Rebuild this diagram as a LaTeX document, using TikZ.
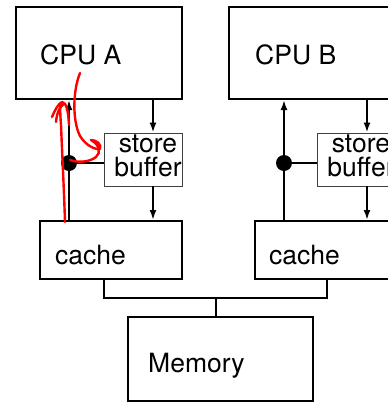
\documentclass[tikz,border=0pt]{standalone}
\usepackage{fontspec}
\setmainfont{TeX Gyre Heros}
\usetikzlibrary{arrows.meta}
\begin{document}
\begin{tikzpicture}[x=1pt,y=-1pt,
  box/.style={draw,line width=2pt,inner sep=0pt,rectangle},
  thinbox/.style={draw,line width=0.9pt,draw=black!75,inner sep=0pt,rectangle},
  txt/.style={inner sep=0pt,anchor=base west,font=\fontsize{26.5}{24}\selectfont},
  sbtxt/.style={inner sep=0pt,align=center,font=\fontsize{26.5}{24}\selectfont},
  wire/.style={line width=2pt},
  arr/.style={line width=2pt,-{Latex[length=10pt,width=7pt]}},
  scribble/.style={red,line width=2.4pt,line cap=round,line join=round}]
\useasboundingbox (0,0) rectangle (388,405);
\clip (0,0) rectangle (388,405);
% boxes
\node[box,minimum width=166pt,minimum height=92pt] (cpuA) at (99,53) {};
\node[box,minimum width=166pt,minimum height=92pt] (cpuB) at (312,53) {};
\node[thinbox,minimum width=78pt,minimum height=53pt] (sbA) at (143,159.5) {};
\node[thinbox,minimum width=78pt,minimum height=53pt] (sbB) at (356,159.5) {};
\node[box,minimum width=142pt,minimum height=58pt] (cacheA) at (111,250) {};
\node[box,minimum width=142pt,minimum height=58pt] (cacheB) at (326,250) {};
\node[box,minimum width=185pt,minimum height=84pt] (mem) at (220.5,359) {};
% texts
\node[txt] (tcpuA) at (40,64) {CPU A};
\node[txt] (tcpuB) at (255,64) {CPU B};
\node[sbtxt] (tsbA) at (148,155.5) {store\\buffer};
\node[sbtxt] (tsbB) at (361,155.5) {store\\buffer};
\node[txt] (tcacheA) at (55,264) {cache};
\node[txt] (tcacheB) at (269,264) {cache};
\node[txt] (tmem) at (148,372) {Memory};
% helper coordinates
\coordinate (xA) at (153,0);
\coordinate (xB) at (367,0);
\coordinate (busL) at (104,298);
\coordinate (busR) at (327,298);
\coordinate (busM) at (216,298);
% dots
\node[circle,fill=black,inner sep=0pt,minimum size=16pt] (dotA) at (69,163) {};
\node[circle,fill=black,inner sep=0pt,minimum size=16pt] (dotB) at (284,163) {};
% connectors A
\draw[arr] (cpuA.south -| xA) -- (sbA.north -| xA);
\draw[arr] (sbA.south -| xA) -- (cacheA.north -| xA);
\draw[arr] (cacheA.north -| dotA) -- (cpuA.south -| dotA);
\draw[wire] (dotA.center) -- (dotA -| sbA.west);
% connectors B
\draw[arr] (cpuB.south -| xB) -- (sbB.north -| xB);
\draw[arr] (sbB.south -| xB) -- (cacheB.north -| xB);
\draw[arr] (cacheB.north -| dotB) -- (cpuB.south -| dotB);
\draw[wire] (dotB.center) -- (dotB -| sbB.west);
% bus
\draw[wire] (cacheA.south -| busL) -- (busL) -- (busR) -- (cacheB.south -| busR);
\draw[wire] (busM) -- (mem.north -| busM);
% red scribble
\draw[scribble] (80,73) .. controls (73,90) and (72,120) .. (80,136)
  .. controls (86,146) and (96,150) .. (100,149)
  .. controls (102,144) and (96,140) .. (91,140)
  .. controls (100,145) and (101,153) .. (96,157)
  .. controls (90,162) and (78,163) .. (70,160);
\draw[scribble] (65,222) .. controls (64,190) and (62,150) .. (61,125)
  .. controls (60,112) and (60,106) .. (61,103);
\draw[scribble] (52,117) .. controls (55,110) and (58,104) .. (62,102)
  .. controls (66,103) and (68,108) .. (69,125);
\draw[scribble] (56,122) .. controls (57,112) and (60,106) .. (64,104);
\end{tikzpicture}
\end{document}
